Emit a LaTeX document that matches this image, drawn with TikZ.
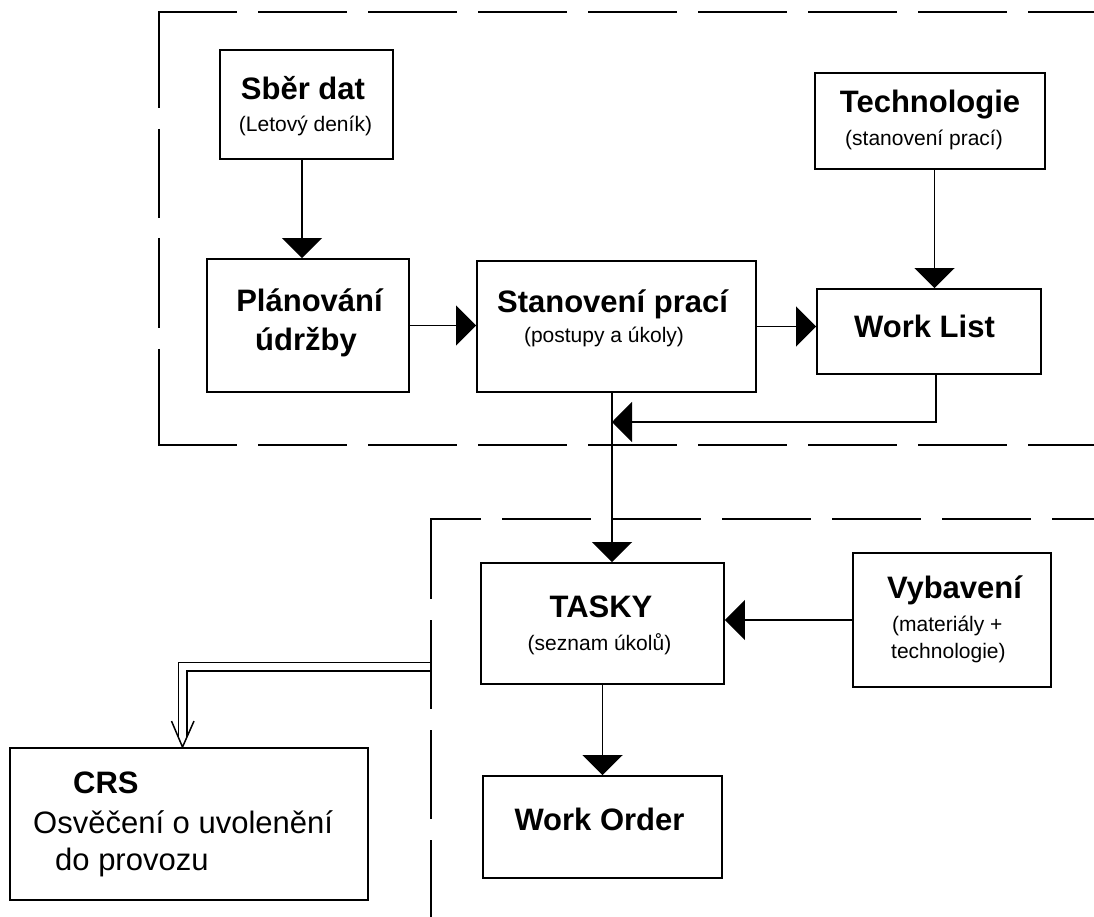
\documentclass[tikz,border=0pt]{standalone}
\usepackage{fontspec}
\setmainfont{Liberation Sans}
\usetikzlibrary{arrows.meta,calc}
\begin{document}
\begin{tikzpicture}[x=1pt,y=-1pt,
  box/.style={draw, line width=1.9pt, inner sep=0pt},
  ttl/.style={font=\fontsize{31}{36}\selectfont\bfseries, inner sep=0pt, anchor=base},
  sub/.style={font=\fontsize{21}{25}\selectfont, inner sep=0pt, anchor=base},
  body/.style={font=\fontsize{31}{36}\selectfont, inner sep=0pt, anchor=base west},
  arr/.style={line width=1.9pt, -{Triangle[length=20pt,width=40pt]}},
  dsh/.style={line width=1.9pt}]
\fill[white] (0,0) rectangle (1094,917);
\useasboundingbox (0,0) rectangle (1094,917);

% boxes
\node[box, minimum width=173pt, minimum height=109pt] (sber) at (306.5,104.5) {};
\node[box, minimum width=202pt, minimum height=133pt] (plan) at (308,325.5) {};
\node[box, minimum width=279pt, minimum height=131pt] (stan) at (616.5,326.5) {};
\node[box, minimum width=230pt, minimum height=96pt] (tech) at (930,121) {};
\node[box, minimum width=224pt, minimum height=85pt] (wl) at (929,331.5) {};
\node[box, minimum width=243pt, minimum height=121pt] (tasky) at (602.5,623.5) {};
\node[box, minimum width=239pt, minimum height=102pt] (wo) at (602.5,827) {};
\node[box, minimum width=198pt, minimum height=134pt] (vyb) at (952,620) {};
\node[box, minimum width=358pt, minimum height=152pt] (crs) at (189,824) {};

% texts
\node[ttl] (sberT) at (303,100) {Sběr dat};
\node[sub] (sberS) at (305.5,132) {(Letový deník)};
\node[ttl] (planT) at (309.5,311) {Plánování};
\node[ttl] (planT2) at (306,350) {údržby};
\node[ttl] (stanT) at (612.5,312) {Stanovení prací};
\node[sub] (stanS) at (604,342) {(postupy a úkoly)};
\node[ttl] (techT) at (930,113) {Technologie};
\node[sub] (techS) at (924,146) {(stanovení prací)};
\node[ttl] (wlT) at (924.5,337) {Work List};
\node[ttl] (taskyT) at (601,617) {TASKY};
\node[sub] (taskyS) at (599.5,650) {(seznam úkolů)};
\node[ttl] (woT) at (599.5,830) {Work Order};
\node[ttl] (vybT) at (954.5,598) {Vybavení};
\node[sub, anchor=base west] (vybS1) at (892,631) {(materiály +};
\node[sub, anchor=base west] (vybS2) at (891,658) {technologie)};
\node[ttl, anchor=base west] (crsT) at (73,793) {CRS};
\node[body] (crsB1) at (33,833) {Osvěčení o uvolenění};
\node[body] (crsB2) at (55,870) {do provozu};

% double connector to CRS
\coordinate (cut) at (431,666.5);
\draw[line width=1.6pt, double, double distance=6.8pt, shorten >=10pt] (cut) -| ([xshift=-6.5pt]crs.north);
\draw[line width=1.5pt] ([xshift=-6.5pt]crs.north) ++(-11,-26) -- ([xshift=-6.5pt]crs.north) -- ++(11.5,-26);

% dashed frames
\draw[dsh, dash pattern=on 89pt off 21pt, dash phase=11pt] (159,12) -- (1094,12);
\draw[dsh, dash pattern=on 89pt off 21pt, dash phase=11pt] (159,445) -- (1094,445);
\draw[dsh, dash pattern=on 96.9pt off 21pt on 89pt off 20pt on 90pt off 21pt on 96.9pt off 20pt] (159,11.05) -- (159,445.95);
\draw[dsh, dash pattern=on 89pt off 21pt, dash phase=39pt] (431,519) -- (1094,519);
\draw[dsh, dash pattern=on 89pt off 21pt, dash phase=8pt] (431,518.05) -- (431,917);

% connectors
\coordinate (join) at (612,422);
\draw[arr] ([xshift=-4.5pt]sber.south) -- ([xshift=-4.5pt]sber.south |- plan.north);
\draw[arr] (plan.east) -- (plan.east -| stan.west);
\draw[arr] (stan.east) -- (stan.east -| wl.west);
\draw[arr] ([xshift=4.5pt]tech.south) -- ([xshift=4.5pt]tech.south |- wl.north);
\draw[arr] ([xshift=7pt]wl.south) |- (join);
\draw[arr] ([xshift=-4.5pt]stan.south) -- ([xshift=-4.5pt]stan.south |- tasky.north);
\draw[arr] (tasky.south) -- (wo.north);
\draw[arr] (vyb.west) -- (vyb.west -| tasky.east);
\end{tikzpicture}
\end{document}
